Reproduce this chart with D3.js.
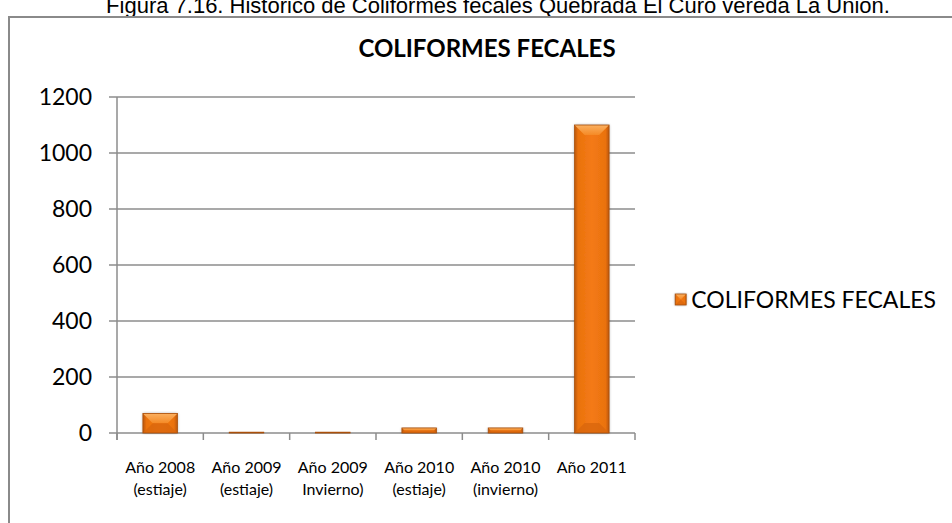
<!DOCTYPE html>
<html>
<head>
<meta charset="utf-8">
<script src="https://cdn.jsdelivr.net/npm/d3@7"></script>
<style>
  html, body { margin: 0; padding: 0; background: #fff; }
  svg { display: block; }
</style>
</head>
<body>
<svg id="chart" width="952" height="523"></svg>
<script>
// Data
const caption = "Figura 7.16. Histórico de Coliformes fecales Quebrada El Curo vereda La Unión.";
const chartTitle = "COLIFORMES FECALES";
const seriesName = "COLIFORMES FECALES";
const categories = [
  ["Año 2008", "(estiaje)"],
  ["Año 2009", "(estiaje)"],
  ["Año 2009", "Invierno)"],
  ["Año 2010", "(estiaje)"],
  ["Año 2010", "(invierno)"],
  ["Año 2011"]
];
const values = [70, 3, 3, 18, 18, 1100];
const yTicks = [0, 200, 400, 600, 800, 1000, 1200];

const svg = d3.select("#chart");
const FONT = "Lato, 'Open Sans', sans-serif";
const gridColor = "#8c8c8c";

// Gradients for the bevelled bars
const defs = svg.append("defs");
const body = defs.append("linearGradient").attr("id", "barBody")
  .attr("x1", "0%").attr("x2", "100%").attr("y1", "0%").attr("y2", "0%");
[["0%", "#b9560a"], ["10%", "#ea720f"], ["50%", "#f47a14"], ["90%", "#ea720f"], ["100%", "#b9560a"]]
  .forEach(([o, c]) => body.append("stop").attr("offset", o).attr("stop-color", c));
const topBevel = defs.append("linearGradient").attr("id", "barTop")
  .attr("x1", "0%").attr("x2", "0%").attr("y1", "0%").attr("y2", "100%");
[["0%", "#fbb060"], ["100%", "#f58a26"]]
  .forEach(([o, c]) => topBevel.append("stop").attr("offset", o).attr("stop-color", c));
const shadow = defs.append("filter").attr("id", "barShadow")
  .attr("x", "-30%").attr("y", "-10%").attr("width", "160%").attr("height", "120%");
shadow.append("feGaussianBlur").attr("in", "SourceAlpha").attr("stdDeviation", 1.6);
shadow.append("feComponentTransfer").append("feFuncA").attr("type", "linear").attr("slope", 0.35);
const merge = shadow.append("feMerge");
merge.append("feMergeNode");
merge.append("feMergeNode").attr("in", "SourceGraphic");

// Caption above the frame (its top runs past the page edge)
svg.append("text")
  .attr("x", 498).attr("y", 13)
  .attr("text-anchor", "middle")
  .attr("font-family", "'Liberation Sans', Arial, sans-serif")
  .attr("font-size", 22)
  .attr("fill", "#000")
  .text(caption);

// Chart frame
svg.append("rect")
  .attr("x", 9).attr("y", 17)
  .attr("width", 960).attr("height", 540)
  .attr("fill", "#fff")
  .attr("stroke", "#8a8a8a").attr("stroke-width", 2);

// Title
svg.append("text")
  .attr("x", 487).attr("y", 57)
  .attr("text-anchor", "middle")
  .attr("font-family", FONT)
  .attr("font-weight", "bold")
  .attr("font-size", 24)
  .attr("fill", "#000")
  .text(chartTitle);

// Plot area
const plotLeft = 117, plotRight = 635, plotTop = 97, plotBottom = 433;
const x = d3.scaleBand().domain(d3.range(categories.length)).range([plotLeft, plotRight]).paddingInner(0.6).paddingOuter(0.3);
const xb = d3.scaleBand().domain(d3.range(categories.length)).range([plotLeft, plotRight]);
const y = d3.scaleLinear().domain([0, 1200]).range([plotBottom, plotTop]);

// Gridlines with the tick stubs on the left
const g = svg.append("g");
g.selectAll("line.grid").data(yTicks).join("line")
  .attr("class", "grid")
  .attr("x1", plotLeft - 8).attr("x2", plotRight)
  .attr("y1", d => y(d)).attr("y2", d => y(d))
  .attr("stroke", gridColor).attr("stroke-width", 1.5);

// Y axis line
g.append("line")
  .attr("x1", plotLeft).attr("x2", plotLeft)
  .attr("y1", plotTop).attr("y2", plotBottom + 7)
  .attr("stroke", gridColor).attr("stroke-width", 1.5);

// X axis ticks at band boundaries
const bounds = d3.range(categories.length + 1).map(i => i < categories.length ? xb(i) : plotRight);
g.selectAll("line.xtick").data(bounds).join("line")
  .attr("class", "xtick")
  .attr("x1", d => d).attr("x2", d => d)
  .attr("y1", plotBottom).attr("y2", plotBottom + 7)
  .attr("stroke", gridColor).attr("stroke-width", 1.5);

// Y tick labels
g.selectAll("text.ylab").data(yTicks).join("text")
  .attr("class", "ylab")
  .attr("x", 92).attr("y", d => y(d))
  .attr("dy", "0.36em")
  .attr("text-anchor", "end")
  .attr("font-family", FONT)
  .attr("font-size", 23)
  .attr("fill", "#000")
  .text(d => d);

// X category labels
const xl = g.selectAll("text.xlab").data(categories).join("text")
  .attr("class", "xlab")
  .attr("text-anchor", "middle")
  .attr("font-family", FONT)
  .attr("font-size", 16)
  .attr("fill", "#000");
xl.selectAll("tspan").data((d, i) => d.map(s => ({ s, i }))).join("tspan")
  .attr("x", d => xb(d.i) + xb.bandwidth() / 2)
  .attr("y", (d, j) => 473 + j * 22)
  .text(d => d.s);

// Bevelled bars
function drawBar(sel, x0, w, y0, y1) {
  const h = y1 - y0;
  const bev = Math.min(10, h / 2, w / 2);
  sel.append("rect")
    .attr("x", x0).attr("y", y0).attr("width", w).attr("height", h)
    .attr("fill", "url(#barBody)")
    .attr("filter", "url(#barShadow)");
  // top bevel
  sel.append("path")
    .attr("d", `M${x0},${y0}L${x0 + w},${y0}L${x0 + w - bev},${y0 + bev}L${x0 + bev},${y0 + bev}Z`)
    .attr("fill", "url(#barTop)");
  // bottom bevel
  sel.append("path")
    .attr("d", `M${x0},${y1}L${x0 + w},${y1}L${x0 + w - bev},${y1 - bev}L${x0 + bev},${y1 - bev}Z`)
    .attr("fill", "#d9660c").attr("opacity", 0.8);
  sel.append("rect")
    .attr("x", x0).attr("y", y0).attr("width", w).attr("height", h)
    .attr("fill", "none").attr("stroke", "#a94f0a").attr("stroke-width", 0.8);
}

const bars = svg.append("g");
values.forEach((v, i) => {
  drawBar(bars.append("g"), x(i), x.bandwidth(), y(v), y(0));
});

// Legend
const legend = svg.append("g");
const legText = legend.append("text")
  .attr("x", 936).attr("y", 300)
  .attr("dy", "0.36em")
  .attr("text-anchor", "end")
  .attr("font-family", FONT)
  .attr("font-size", 23)
  .attr("fill", "#000")
  .text(seriesName);
const tw = legText.node().getComputedTextLength();
const mx = 936 - tw - 16;
drawBar(legend.append("g"), mx, 11, 294, 305);
</script>
</body>
</html>
